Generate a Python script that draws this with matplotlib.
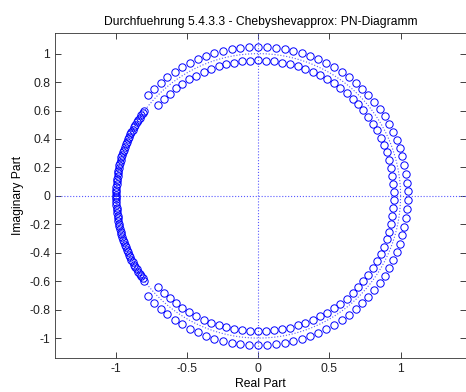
import numpy as np
import matplotlib
matplotlib.use("Agg")
import matplotlib.pyplot as plt

# ---------------------------------------------
# zero locations (upper half plane, degrees)
# ---------------------------------------------
ring_angles = [1.7, 5.1, 8.5, 11.9, 15.3, 18.7, 22.1, 25.5, 28.9, 32.3,
               35.7, 39.1, 42.5, 45.9, 49.3, 52.7, 56.1, 59.5, 62.9, 66.3,
               69.7, 73.1, 76.5, 79.9, 83.3, 86.7, 90.1, 93.5, 96.9, 100.3,
               103.7, 107.1, 110.5, 113.9, 117.3, 120.7, 124.1, 127.5, 130.9,
               134.3, 137.7]
ring_radius_outer = 1.05
ring_radius_inner = 0.952

cluster_angles = [143.4, 144.5, 145.6, 146.7, 147.8, 148.9, 150.0, 151.1,
                  152.2, 153.3, 154.4, 155.5, 156.6, 157.7, 158.8, 159.9,
                  161.0, 162.1, 163.2, 164.3, 165.4, 166.5, 167.6, 168.7,
                  169.8, 170.9, 172.0, 173.1, 174.2, 175.3, 176.4, 177.5,
                  178.6, 179.7]
cluster_radius = 1.0

x_ticks = [-1, -0.5, 0, 0.5, 1]
y_ticks = [-1, -0.8, -0.6, -0.4, -0.2, 0, 0.2, 0.4, 0.6, 0.8, 1]


# -----
# build complex zeros (conjugate pairs)
# -----
def make_zeros():
    zeros = []
    for a in ring_angles:
        for r in (ring_radius_outer, ring_radius_inner):
            z = r * np.exp(1j * np.deg2rad(a))
            zeros += [z, np.conj(z)]
    for a in cluster_angles:
        z = cluster_radius * np.exp(1j * np.deg2rad(a))
        zeros += [z, np.conj(z)]
    return np.array(zeros)


plt.rcParams["font.family"] = ["Liberation Sans", "DejaVu Sans"]
plt.rcParams["font.size"] = 8.7

fig = plt.figure(figsize=(4.66, 3.92), dpi=100)
ax = fig.add_axes([55 / 466, 34 / 392, 411 / 466, 325 / 392])

zeros = make_zeros()
line_col = (0.35, 0.35, 1.0)

# unit circle and axes lines
t = np.linspace(0, 2 * np.pi, 400)
ax.plot(np.cos(t), np.sin(t), linestyle=":", color=line_col, linewidth=0.8)
ax.axhline(0, linestyle=":", color=line_col, linewidth=0.8)
ax.axvline(0, linestyle=":", color=line_col, linewidth=0.8)

ax.plot(zeros.real, zeros.imag, linestyle="none", marker="o",
        markersize=5.3, markerfacecolor="none", markeredgecolor="blue",
        markeredgewidth=0.7)

ax.set_xlim(-1.43, 1.46)
ax.set_ylim(-1.14, 1.145)
ax.set_xticks(x_ticks)
ax.set_xticklabels(["-1", "-0.5", "0", "0.5", "1"])
ax.set_yticks(y_ticks)
ax.set_yticklabels(["-1", "-0.8", "-0.6", "-0.4", "-0.2", "0", "0.2", "0.4",
                    "0.6", "0.8", "1"])
ax.tick_params(direction="in", top=True, right=True, length=4, width=0.6,
               labelsize=8.7, colors="#222222")
for s in ax.spines.values():
    s.set_linewidth(0.6)
    s.set_color("#333333")

ax.set_title("Durchfuehrung 5.4.3.3 - Chebyshevapprox: PN-Diagramm",
             fontsize=8.7, pad=6)
ax.set_xlabel("Real Part", fontsize=8.7, labelpad=2)
ax.set_ylabel("Imaginary Part", fontsize=8.7, labelpad=4)

fig.savefig("out.png", dpi=100)
